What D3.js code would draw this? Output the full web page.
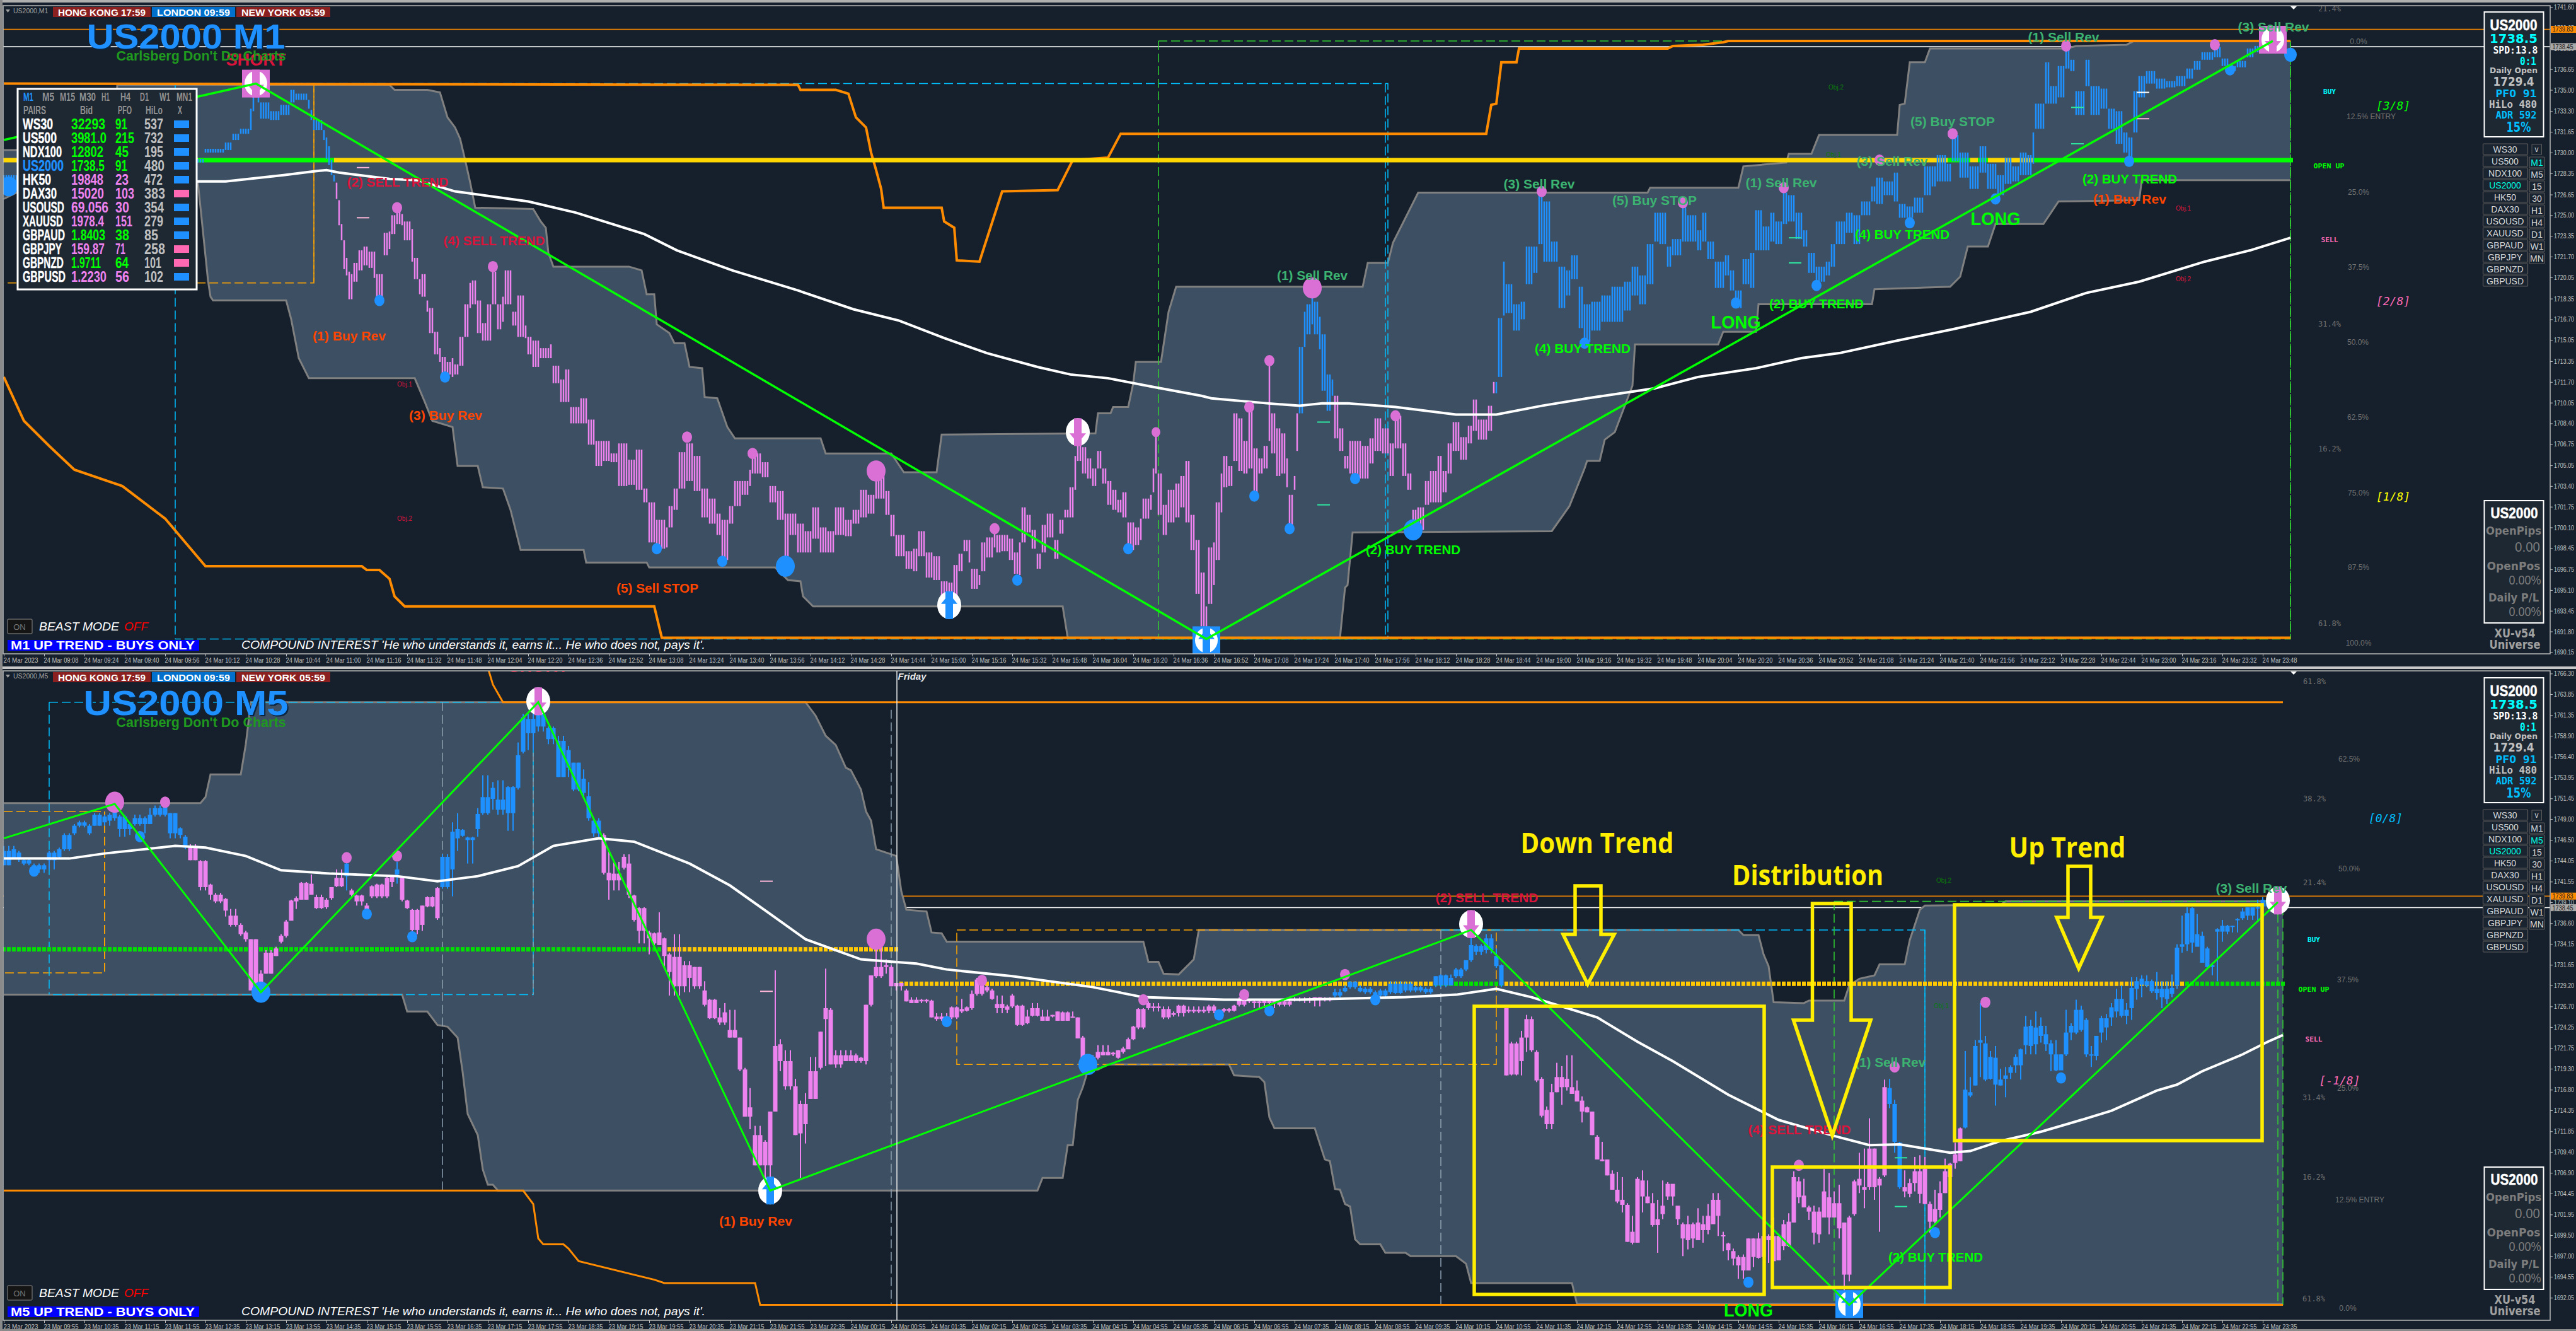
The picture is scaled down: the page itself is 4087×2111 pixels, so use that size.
<!DOCTYPE html>
<html><head><meta charset="utf-8">
<script src="https://cdn.jsdelivr.net/npm/d3@7/dist/d3.min.js"></script>
<style>html,body{margin:0;padding:0;background:#16202c;overflow:hidden}</style>
</head><body><svg id="c" width="4087" height="2111" xmlns="http://www.w3.org/2000/svg"></svg>
<script>
// All series values below are in tenths of a point above 1690.0 (225 = 1712.5); bars are bar numbers from the left of each panel.
const m1Start=[0,6,77,80,88,91,94,98,99,100,101,102,106,110,114,116,121,122,123,127,128,129,130,131,132,133,134,135,136,137,138,139,141,143,145,147,148,151,153,154,156,158,159,162,163,165,166,168,169,171,173,174,176,178,179,181,183,185,186,188,190,192,194,196,198,199,202,204,207,208,210,213,217,218,221,223,225,229,232,235,238,241,244,248,251,254,256,259,263,264,266,268,271,274,277,280,283,285,288,290,293,296,297,301,304,307,310,312,315,318,321,324,327,330,334,337,340,343,346,350,352,354,358,361,363,366,369,372,375,377,379,381,383,384,387,388,390,393,394,396,399,401,403,404,406,408,410,412,414,417,419,421,423,425,426,428,430,432,434,436,438,440,442,444,446,449,451,452,455,456,457,458,460,462,465,467,469,471,473,475,477,478,480,481,483,484,486,488,490,492,494,496,498,500,502,503,505,507,509,510,512,513,514,516,517,519,520,522,523,525,527,528,530,532,534,536,539,542,544,547,550,552,555,557,559,561,564,566,569,571,573,575,578,581,583,585,589,591,593,595,596,599,602,604,607,609,611,614,617,620,622,625,627,630,634,638,643,646,649,652,655,657,660,662,666,668,672,674,676,679,683,685,687,690,693,695,698,701,703,706,708,711,714,716,719,723,725,727,731,734,737,741,743,746,750,752,755,758,762,765,767,771,773,776,780,784,787,791,794,797,800,803,805,806,810,812,815,818,820,822,826,828,832,835,838,841,843,845,847,850,854,858,862,866,869,872,877,880,883,886,890,893,898,901,906];
const m1High=[382,382,395,403,408,415,419,435,452,452,447,440,433,438,450,447,442,434,426,418,412,405,394,382,376,362,343,330,316,305,303,312,322,325,321,321,303,336,337,350,355,351,345,339,316,299,303,282,276,257,244,237,233,236,231,253,279,296,298,282,264,279,305,279,285,306,273,286,262,253,250,244,247,230,219,227,197,204,187,170,170,160,168,155,163,132,121,107,101,118,132,161,168,158,132,124,112,107,118,138,138,147,160,153,134,130,112,112,104,98,117,101,98,117,107,115,131,127,144,130,111,95,82,84,98,81,78,58,57,71,80,91,91,68,63,89,93,99,95,95,92,81,89,117,111,99,80,103,112,91,107,115,133,158,176,165,156,148,162,148,138,131,123,129,105,101,108,124,127,148,176,144,119,131,136,142,154,111,91,65,38,85,89,121,144,158,150,192,188,170,196,164,156,166,233,192,180,176,156,127,142,192,245,273,279,293,281,269,255,223,219,206,180,158,170,170,166,172,188,180,168,190,168,144,115,117,138,146,158,146,168,185,173,182,203,187,198,217,268,313,295,279,281,325,325,366,361,329,309,306,318,293,279,281,286,293,297,309,302,327,352,352,325,331,361,350,338,352,329,313,318,306,290,315,320,354,341,352,345,368,366,352,338,320,309,313,327,345,352,350,361,373,380,377,384,359,357,364,389,389,398,391,414,400,389,405,391,382,396,389,400,398,416,439,472,453,469,485,474,449,474,453,451,435,433,416,412,449,461,465,459,457,461,467,473,480,484,475,469,473,483,485,489,488,483];
const m1Low=[376,376,392,400,402,410,415,418,433,445,440,427,426,430,440,442,435,426,418,410,395,390,382,377,363,342,330,307,302,283,283,297,306,310,308,300,282,318,323,335,343,342,330,313,299,287,285,273,256,239,233,221,223,221,223,230,253,276,279,256,250,250,279,259,265,279,262,253,252,239,229,236,236,216,201,201,184,184,167,150,154,153,134,135,131,121,89,84,85,101,115,132,138,130,109,104,95,75,104,118,127,134,144,141,121,107,69,95,81,81,92,81,81,95,94,104,109,112,124,111,94,78,68,66,78,61,59,41,38,46,66,82,73,52,55,66,77,85,81,82,75,64,63,89,97,84,68,81,93,76,96,109,109,131,154,144,140,134,148,136,119,115,113,109,83,87,91,108,115,129,144,111,95,105,109,117,105,83,48,22,10,40,55,75,113,133,134,154,146,144,148,125,144,148,170,160,142,144,133,101,131,162,192,245,255,263,255,243,210,194,206,172,162,148,144,140,140,152,162,160,142,164,142,131,99,99,119,121,121,129,144,162,155,168,178,171,178,208,221,270,272,258,267,295,304,327,313,313,276,286,299,260,249,258,265,265,274,286,279,295,329,327,309,318,329,329,322,329,315,292,302,290,276,295,292,322,322,329,327,343,345,331,325,304,297,302,309,327,336,327,350,361,359,366,361,348,348,352,366,373,377,377,393,380,371,384,371,366,375,377,382,382,391,419,439,439,444,467,465,430,453,430,435,419,407,400,391,416,444,455,451,452,453,459,466,474,476,469,465,468,476,480,483,482,478];
const m1BlueRuns=[[0,131],[514,527],[592,907]];

const m5Start=[0,2,3,4,6,7,9,11,12,14,15,17,18,20,21,22,23,25,26,28,29,30,32,33,35,36,37,39,41,42,44,45,47,48,49,51,52,54,55,56,57,58,59,61,62,64,65,66,68,69,70,72,73,74,76,77,78,79,80,81,83,84,86,87,89,90,91,92,94,95,97,98,100,102,103,104,106,108,110,112,113,115,116,117,119,120,121,123,124,125,126,128,129,130,131,132,133,135,136,137,139,140,142,143,144,146,147,148,149,151,152,153,154,155,157,158,159,160,162,163,164,165,167,169,170,171,172,173,175,176,177,179,180,182,184,185,187,188,190,191,192,193,195,196,197,199,200,201,203,204,206,208,209,210,212,213,214,215,217,218,220,221,222,223,224,225,227,228,230,232,233,235,237,239,241,242,244,245,247,248,250,253,256,258,260,262,264,266,267,269,270,272,273,275,276,278,280,282,284,285,287,288,290,291,292,294,296,297,298,299,301,302,303,304,305,306,307,308,309,310,311,312,313,314,315,316,317,318,319,320,321,322,323,324,325,326,327,328,329,330,331,332,333,334,335,336,337,338,339,340,341,342,343,344,345,346,347,348,349,350,351,352,353,354,355,356,357,358,359,360,361,362,363,364,365,366,367,368,369,370,371,372,373,374,375,376,377,378,379,380,381,382,383,384,385,386,387,388,389,390,391,392,393,394,395,396,397,398,399,400,401,402,403,404,405,406,407,408,409,410,411,412,413,414,415,416,417,418,419,420,421,422,423,424,425,426,427,428,429,430,431,432,433,434,435,436,437,438,439,440,441,442,443,444,445,446,447,448,450,452];
const m5High=[558,558,552,543,537,537,552,556,573,584,588,584,597,595,597,608,595,586,595,593,603,606,610,597,580,571,560,541,513,502,496,483,466,457,447,410,434,438,453,470,494,498,515,524,500,496,509,530,539,507,500,490,511,513,522,522,539,522,494,483,487,498,509,548,586,597,578,569,603,642,634,636,629,681,715,715,728,700,689,677,657,649,634,591,573,552,539,548,548,500,485,457,455,479,449,431,453,421,421,414,397,376,365,371,363,330,294,270,225,208,242,410,328,315,281,255,264,307,337,412,365,315,315,311,307,369,404,444,423,416,395,388,378,376,375,359,359,367,376,367,386,401,392,388,380,369,382,369,363,371,363,357,361,361,361,354,332,309,321,321,313,315,319,330,344,365,373,371,367,361,369,367,367,369,363,365,369,378,376,375,376,375,378,378,378,378,388,392,397,392,390,386,388,397,397,396,392,390,403,405,405,413,422,449,441,453,436,417,365,325,338,357,355,315,283,248,275,300,296,309,309,279,260,248,242,214,206,185,172,170,164,133,118,164,172,160,145,137,160,158,151,126,110,118,110,127,118,132,145,145,99,86,79,71,72,91,91,98,99,96,116,96,113,121,171,164,162,130,130,128,174,169,147,155,110,118,161,193,198,234,198,164,280,281,256,206,172,162,188,190,188,135,149,159,186,181,205,223,314,283,327,371,332,314,320,293,295,297,310,317,356,351,361,354,344,327,327,310,363,347,375,368,353,320,332,356,358,371,388,392,371,402,402,404,404,399,408,397,397,405,441,475,485,485,477,456,438,419,460,470,464,463,472,484,485,485,494,497,494];
const m5Low=[535,543,539,535,524,526,530,543,552,571,580,571,582,582,582,588,569,571,582,573,584,593,593,567,567,554,541,505,494,490,474,462,451,444,388,388,406,427,442,449,470,483,494,500,483,483,494,509,505,496,487,474,496,496,496,509,513,492,483,453,457,485,470,507,498,552,569,537,569,595,601,595,576,625,668,672,694,679,640,640,623,616,588,569,524,494,505,530,496,468,442,429,440,440,414,380,380,384,384,388,367,352,345,345,330,290,236,221,178,156,161,242,290,268,214,163,204,257,292,296,298,294,302,300,300,298,367,401,406,391,386,373,371,371,354,350,344,352,359,361,363,380,384,375,359,359,365,344,346,355,350,354,350,350,354,329,298,298,304,309,308,305,311,317,327,340,363,361,352,355,355,359,359,359,359,360,361,367,371,365,365,367,373,371,367,373,378,384,388,384,382,371,378,382,382,384,384,382,390,390,392,401,409,420,428,430,413,390,285,285,285,313,313,277,235,221,221,265,250,267,263,254,229,241,214,185,183,166,149,133,122,87,84,86,122,133,105,74,114,137,130,107,70,78,80,93,86,96,120,94,76,65,59,43,43,55,57,67,72,62,64,72,77,81,110,133,128,113,84,86,123,96,116,91,28,40,118,145,127,149,137,99,164,246,193,150,140,140,147,133,132,98,108,116,145,154,174,183,222,259,273,283,278,280,249,273,259,281,288,280,310,310,310,324,314,290,290,293,308,327,334,337,307,295,303,324,327,344,354,354,346,351,375,378,390,383,375,365,370,378,388,431,433,431,441,433,412,404,397,444,453,455,455,470,470,470,470,484,484];
const m5BodyTop=[552,554,550,541,535,535,550,554,571,582,586,582,595,593,595,599,593,584,591,591,595,603,608,597,579,569,558,540,512,500,495,475,464,455,447,406,431,436,451,468,493,496,514,513,497,494,509,520,537,505,499,487,510,512,520,521,530,520,493,482,487,497,508,545,575,578,577,568,596,616,627,613,628,666,711,709,715,698,683,672,657,638,617,588,571,526,525,545,537,499,484,455,454,455,448,429,426,416,416,414,386,375,354,360,339,330,292,247,214,206,242,320,322,302,272,251,251,290,337,365,363,309,309,309,306,369,404,414,416,414,395,386,375,375,374,355,355,366,364,366,382,399,390,386,370,367,380,368,355,365,355,357,361,360,355,354,330,307,313,313,312,315,317,328,343,364,371,367,364,359,368,363,363,367,362,364,368,376,375,373,375,373,376,376,378,376,384,389,396,389,388,384,386,394,394,394,390,388,403,404,401,411,422,440,439,448,427,416,365,323,330,352,352,313,281,244,265,283,283,281,271,267,255,247,242,212,185,185,168,149,137,131,99,162,160,141,133,114,130,156,156,130,108,108,108,110,108,118,137,137,95,85,76,69,69,91,91,91,94,94,94,94,108,111,164,159,142,128,123,123,147,140,133,133,110,116,159,162,152,198,198,162,271,270,251,205,152,157,171,171,174,132,126,145,171,180,191,222,268,265,320,327,323,307,306,280,285,295,307,316,343,344,342,344,334,323,310,310,336,344,363,363,351,310,332,353,353,366,376,376,363,389,397,400,397,397,388,388,388,389,437,441,478,484,453,451,436,416,459,463,463,463,471,480,485,485,485,494,492];
const m5BodyBot=[535,543,543,537,528,530,541,545,554,573,582,573,582,586,588,591,578,578,584,584,584,595,595,573,571,556,541,509,500,492,481,464,453,447,386,388,406,427,444,451,469,492,494,500,484,485,496,510,522,500,492,481,498,498,498,515,524,494,484,458,464,486,472,509,530,567,570,565,578,597,614,601,597,627,670,692,700,685,640,651,625,621,591,573,526,517,517,532,500,470,457,448,442,440,427,408,391,391,401,391,369,353,348,348,330,292,236,236,178,178,178,242,302,272,214,216,227,257,294,352,298,298,302,302,302,302,369,403,414,391,391,373,371,373,354,352,352,354,361,362,365,382,386,376,365,363,367,345,347,356,350,355,350,350,354,329,298,298,306,309,310,306,313,316,328,342,365,365,354,357,359,361,361,362,361,362,362,369,373,371,371,369,375,374,375,375,380,385,390,385,384,376,380,384,383,386,386,384,392,392,392,403,411,422,432,434,415,392,285,286,302,330,315,279,237,227,227,265,271,271,263,254,242,241,214,185,183,166,149,135,131,87,86,86,141,133,107,107,120,141,141,114,91,89,91,89,101,101,108,118,94,77,67,59,53,53,69,68,69,89,64,65,82,82,110,140,128,123,98,96,116,116,116,103,48,48,120,154,149,152,152,154,166,251,206,152,147,144,157,144,132,111,111,125,145,164,181,183,223,261,273,324,280,281,274,273,281,288,297,297,321,320,322,332,322,310,291,291,310,336,336,339,310,309,308,336,342,354,361,356,356,365,388,393,392,385,383,378,376,382,392,438,441,443,438,419,414,414,456,456,456,462,472,472,475,475,486,486];
const m5BlueRuns=[[0,36],[68,68],[78,78],[87,118],[264,297],[374,376],[389,452]];

// Overlay series: pairs of [bar, value]
const m1Upper=[[0,402],[44,402],[45,454],[153,454],[155,450],[168,450],[173,448],[176,428],[179,420],[181,411],[183,394],[185,376],[187,356],[210,355],[213,345],[215,340],[216,320],[218,309],[248,309],[253,306],[255,287],[258,287],[259,263],[264,256],[266,248],[270,248],[272,229],[277,228],[278,205],[283,204],[287,181],[290,172],[324,172],[326,160],[352,160],[357,145],[370,145],[372,175],[433,176],[434,192],[439,192],[440,197],[446,197],[448,216],[449,233],[459,233],[462,273],[465,293],[539,293],[541,312],[549,312],[551,328],[561,368],[652,368],[653,372],[688,372],[690,389],[707,392],[708,399],[717,399],[720,414],[751,414],[752,438],[754,439],[756,472],[762,472],[764,483],[818,483],[822,485],[842,486],[845,489],[907,489]];
const m1Lower=[[0,363],[5,368],[77,376],[81,298],[82,285],[83,282],[112,282],[114,267],[117,236],[121,220],[163,220],[167,201],[170,186],[178,181],[180,150],[188,150],[190,133],[198,132],[201,115],[205,83],[230,83],[231,73],[255,73],[256,69],[306,69],[311,59],[316,58],[317,46],[321,38],[420,38],[422,13],[530,13],[532,53],[533,55],[535,97],[614,98],[621,118],[627,148],[628,154],[633,154],[635,171],[639,177],[646,214],[647,247],[680,247],[682,257],[695,257],[696,279],[741,279],[742,291],[772,293],[776,301],[779,325],[787,325],[790,343],[809,343],[815,361],[847,362],[848,378],[907,378]];
const m1OrangeUp=[[0,455],[315,454],[316,450],[330,450],[335,447],[338,428],[342,420],[344,400],[346,386],[348,371],[349,356],[372,356],[373,345],[377,340],[378,314],[387,313],[396,369],[418,370],[424,394],[438,396],[443,415],[588,415],[590,438],[592,439],[594,472],[600,472],[601,483],[660,483],[662,485],[674,486],[682,488],[684,489],[907,489]];
const m1OrangeDn=[[0,221],[8,186],[18,166],[28,147],[47,134],[64,108],[80,70],[142,70],[144,67],[149,67],[153,60],[155,46],[159,38],[258,38],[261,13],[907,13]];
const m1Ma=[[0,373],[77,377],[88,377],[111,382],[123,385],[128,386],[133,384],[153,379],[164,378],[179,369],[208,361],[227,352],[254,335],[267,322],[289,306],[315,290],[337,275],[355,266],[373,252],[390,240],[410,229],[423,223],[438,220],[456,213],[475,206],[479,204],[501,200],[514,198],[523,200],[533,200],[552,197],[576,191],[592,191],[610,198],[628,204],[655,212],[672,221],[695,228],[713,236],[728,240],[751,250],[773,259],[804,273],[826,288],[847,297],[873,313],[891,322],[907,332]];
const m1Zig=[[0,410],[100,455],[477,12],[900,489]];
const m1Open=394;
const m1OpenRuns=[[0,77,"#FFD700"],[77,131,"#00FF00"],[131,771,"#FFD700"],[771,780,"#00FF00"],[780,783,"#FFD700"],[783,787,"#00FF00"],[787,805,"#FFD700"],[805,908,"#00FF00"]];
const m1Dots=[[2,373,14],[149,282,8],[156,356,8],[175,221,8],[194,309,8],[259,84,8],[271,173,8],[285,74,8],[310,70,15],[297,160,8],[346,146,15],[393,100,8],[402,59,8],[457,177,7],[446,84,8],[494,197,8],[496,126,8],[502,234,8],[510,100,8],[519,292,15],[536,140,8],[552,190,8],[559,99,15],[610,369,8],[627,248,8],[666,360,8],[687,280,8],[706,372,8],[719,294,8],[744,394,8],[773,415,8],[756,344,8],[790,363,8],[818,485,8],[843,393,8],[877,486,8],[883,466,8],[907,478,10]];
const m1DotBlue=[1,1,0,1,0,1,0,1,1,0,0,0,1,0,1,0,1,0,1,0,1,0,1,0,1,0,1,0,1,0,0,1,1,0,1,0,1,1];
const m1Icons=[[100,455,"sell","sq"],[426,177,"sell","c"],[375,39,"buy","c"],[477,11,"buy","sq"],[900,490,"sell","sq"]];
const m1Dash=[[140,388,"#ffb6d9"],[140,348,"#ffb6d9"],[521,185,"#2ee6a0"],[521,119,"#2ee6a0"],[708,332,"#2ee6a0"],[708,312,"#2ee6a0"],[820,436,"#2ee6a0"],[820,407,"#2ee6a0"],[846,448,"#ffffff"],[846,427,"#ffb6d9"]];

const m5Upper=[[0,609],[39,609],[40,616],[41,643],[47,643],[48,679],[49,729],[159,729],[161,713],[163,689],[165,678],[167,651],[168,648],[170,625],[171,599],[172,588],[173,554],[177,546],[178,504],[179,482],[183,480],[184,455],[186,454],[187,444],[226,444],[227,420],[229,420],[230,406],[233,405],[236,423],[237,458],[344,458],[345,452],[348,452],[349,429],[350,415],[351,372],[357,371],[358,374],[365,374],[366,392],[368,400],[371,404],[372,417],[377,417],[378,446],[380,482],[381,487],[396,488],[397,492],[452,492]];
const m5Lower=[[0,381],[79,381],[80,361],[84,361],[86,345],[88,343],[90,330],[91,289],[92,239],[94,214],[95,173],[96,155],[97,155],[98,148],[205,148],[206,163],[210,163],[211,202],[212,202],[213,256],[214,271],[215,291],[217,292],[219,298],[243,298],[244,285],[249,283],[250,277],[251,235],[252,222],[260,222],[262,185],[263,183],[264,150],[265,149],[266,132],[267,129],[268,90],[269,84],[273,84],[274,74],[278,74],[279,70],[288,70],[290,61],[291,38],[311,38],[312,13],[452,13]];
const m5OrangeUp=[[96,770],[97,750],[99,729],[452,729]];
const m5OrangeDn=[[0,148],[103,148],[105,132],[106,91],[107,84],[111,84],[112,79],[114,64],[129,42],[131,38],[149,38],[150,12],[452,12]];
const m5Ma=[[0,543],[13,543],[20,549],[34,558],[40,556],[48,546],[55,529],[65,525],[78,522],[86,516],[94,522],[102,534],[109,558],[118,567],[125,563],[136,537],[144,511],[152,477],[159,447],[170,423],[181,418],[187,411],[200,403],[216,390],[226,378],[242,375],[257,375],[278,378],[288,381],[296,388],[303,378],[309,367],[316,354],[324,325],[331,302],[342,262],[352,232],[363,213],[370,202],[376,203],[386,193],[390,195],[396,207],[404,218],[412,232],[418,243],[427,267],[431,274],[436,290],[444,310],[449,325],[452,333]];
const m5Zig=[[0,567],[22,608],[51,384],[106,729],[152,148],[291,458],[366,12],[451,491]];
const m5OpenRuns=[[0,131,435,"#00E000"],[132,177,435,"#FFC800"],[178,283,394,"#FFC800"],[284,297,394,"#00E000"],[298,432,394,"#FFC800"],[433,452,394,"#00E000"]];
const m5Dots=[[6,528,8],[22,610,15],[27,569,8],[32,610,8],[51,384,15],[68,544,8],[72,477,8],[78,546,8],[81,450,8],[187,349,8],[194,398,8],[215,298,15],[226,375,8],[241,357,8],[246,381,8],[251,362,8],[266,405,8],[272,375,8],[173,447,15],[356,178,8],[346,39,8],[375,295,8],[383,98,8],[408,282,8],[393,372,8]];
const m5DotBlue=[1,0,1,0,1,0,1,0,1,1,0,1,0,1,0,1,0,1,0,0,1,0,1,1,0];
const m5Icons=[[106,730,"sell","c"],[152,148,"buy","c"],[291,465,"sell","c"],[366,13,"buy","sq"],[451,493,"sell","c"]];
const m5Dash=[[150,516,"#ffb6d9"],[150,385,"#ffb6d9"],[375,187,"#2ee6a0"],[375,129,"#2ee6a0"]];

const m1PriceTicks=[1741.60,1739.95,1738.30,1736.65,1735.00,1733.30,1731.65,1730.00,1728.35,1726.65,1725.00,1723.35,1721.70,1720.05,1718.35,1716.70,1715.05,1713.35,1711.70,1710.05,1708.40,1706.75,1705.05,1703.40,1701.75,1700.10,1698.45,1696.75,1695.10,1693.45,1691.80,1690.15];
const m5PriceTicks=[1766.30,1763.85,1761.35,1758.90,1756.40,1753.95,1751.45,1749.00,1746.50,1744.05,1741.55,1739.10,1736.60,1734.15,1731.65,1729.20,1726.70,1724.25,1721.75,1719.30,1716.80,1714.35,1711.85,1709.40,1706.90,1704.45,1701.95,1699.50,1697.00,1694.55,1692.05];
const m1TimeLabels=["24 Mar 2023"].concat("09:08 09:24 09:40 09:56 10:12 10:28 10:44 11:00 11:16 11:32 11:48 12:04 12:20 12:36 12:52 13:08 13:24 13:40 13:56 14:12 14:28 14:44 15:00 15:16 15:32 15:48 16:04 16:20 16:36 16:52 17:08 17:24 17:40 17:56 18:12 18:28 18:44 19:00 19:16 19:32 19:48 20:04 20:20 20:36 20:52 21:08 21:24 21:40 21:56 22:12 22:28 22:44 23:00 23:16 23:32 23:48".split(" ").map(s=>"24 Mar "+s));
const m5TimeLabels=["23 Mar 2023"].concat("09:55 10:35 11:15 11:55 12:35 13:15 13:55 14:35 15:15 15:55 16:35 17:15 17:55 18:35 19:15 19:55 20:35 21:15 21:55 22:35".split(" ").map(s=>"23 Mar "+s)).concat("00:15 00:55 01:35 02:15 02:55 03:35 04:15 04:55 05:35 06:15 06:55 07:35 08:15 08:55 09:35 10:15 10:55 11:35 12:15 12:55 13:35 14:15 14:55 15:35 16:15 16:55 17:35 18:15 18:55 19:35 20:15 20:55 21:35 22:15 22:55 23:35".split(" ").map(s=>"24 Mar "+s));

const tblPairs=["WS30","US500","NDX100","US2000","HK50","DAX30","USOUSD","XAUUSD","GBPAUD","GBPJPY","GBPNZD","GBPUSD"];
const tblBid=["32293","3981.0","12802","1738.5","19848","15020","69.056","1978.4","1.8403","159.87","1.9711","1.2230"];
const tblPfo=["91","215","45","91","23","103","30","151","38","71","64","56"];
const tblHilo=["537","732","195","480","472","383","354","279","85","258","101","102"];
const tblUp=[1,1,1,1,0,0,0,0,1,0,1,0];
const tblX=[1,1,1,1,1,0,1,1,1,0,0,1];
const tfNames=["M1","M5","M15","M30","H1","H4","D1","W1","MN1"];
const symButtons=["WS30","US500","NDX100","US2000","HK50","DAX30","USOUSD","XAUUSD","GBPAUD","GBPJPY","GBPNZD","GBPUSD"];
const tfButtons=["M1","M5","15","30","H1","H4","D1","W1","MN"];

// ---------- drawing ----------
const BG="#16202c",BAND="#3d5063",PINK="#ee82ee",BLUE="#1e90ff",DOTP="#da70d6",GRAY="#808080",ORANGE="#ff8c00",LIME="#00ff00";
const svg=d3.select("#c");
const sans="'Liberation Sans',Arial,sans-serif",mono="'DejaVu Sans Mono',monospace",dj="'DejaVu Sans',sans-serif";
const price=v=>1690+v/10;
function T(g,x,y,s,o={}){
  const e=g.append("text").attr("x",x).attr("y",y).text(s).attr("dominant-baseline","central")
   .attr("text-anchor",o.a||"middle").attr("font-family",o.f||sans).attr("font-size",o.s||14).attr("fill",o.c||"#fff");
  if(o.b)e.attr("font-weight","bold"); if(o.i)e.attr("font-style","italic");
  if(o.w)e.attr("textLength",o.w).attr("lengthAdjust","spacingAndGlyphs");
  if(o.st)e.attr("stroke",o.st).attr("stroke-width",o.sw||.5);
  return e;
}
svg.append("rect").attr("width",4087).attr("height",2111).attr("fill",BG);
svg.append("rect").attr("x",0).attr("y",0).attr("width",4087).attr("height",4).attr("fill","#b0b0b0");
svg.append("rect").attr("x",0).attr("y",1057).attr("width",4087).attr("height",4).attr("fill","#c8c8c8");
svg.append("rect").attr("x",0).attr("y",0).attr("width",4).attr("height",2111).attr("fill","#8a8a8a");
svg.append("rect").attr("x",0).attr("y",2108).attr("width",4087).attr("height",3).attr("fill","#8a8a8a");

function panel(p){
  const x=d3.scaleLinear().domain([0,p.bars]).range([6,p.right]);
  const y=d3.scaleLinear().domain([1690,p.topP]).range([p.y0,p.y1]);
  const X=b=>x(b),Y=v=>y(price(v));
  const root=svg.append("g");
  const id="clip"+p.name;
  svg.append("clipPath").attr("id",id).append("rect").attr("x",5).attr("y",p.top).attr("width",4041).attr("height",p.bot-p.top);
  const g=root.append("g").attr("clip-path",`url(#${id})`);
  root.append("path").attr("d",`M5 ${p.top}H4046V${p.bot}H5Z`).attr("fill","none").attr("stroke","#b8b8b8").attr("stroke-width",1.5);
  g.append("line").attr("x1",5).attr("x2",4046).attr("y1",y(1739.83)).attr("y2",y(1739.83)).attr("stroke",ORANGE).attr("stroke-width",1.5);
  g.append("line").attr("x1",5).attr("x2",4046).attr("y1",y(1738.45)).attr("y2",y(1738.45)).attr("stroke","#fff").attr("stroke-width",1.5);
  const ln=d3.line().x(d=>X(d[0])).y(d=>Y(d[1]));
  g.append("path").attr("d",ln(p.upper.concat(p.lower.slice().reverse()))+"Z").attr("fill",BAND);
  [p.upper,p.lower].forEach(a=>g.append("path").attr("d",ln(a)).attr("fill","none").attr("stroke",GRAY).attr("stroke-width",3));
  p.boxes.forEach(b=>{g.append("path").attr("d",`M${X(b[0])} ${Y(b[2])}H${X(b[1])}V${Y(b[3])}H${X(b[0])}`+(b[5]?"Z":"")).attr("fill","none").attr("stroke",b[4]).attr("stroke-width",1.5).attr("stroke-dasharray","14 6");});
  p.vert.forEach(b=>{g.append("line").attr("x1",X(b[0])).attr("x2",X(b[0])).attr("y1",Y(b[1])).attr("y2",Y(b[2])).attr("stroke",b[3]).attr("stroke-width",1.5).attr("stroke-dasharray",b[4]||"14 6");});
  [p.oUp,p.oDn].forEach(a=>g.append("path").attr("d",ln(a)).attr("fill","none").attr("stroke",ORANGE).attr("stroke-width",p.oW));
  p.drawOpen(g,X,Y);
  p.drawBars(g,X,Y);
  g.append("path").attr("d",ln(p.ma)).attr("fill","none").attr("stroke","#fff").attr("stroke-width",4);
  g.selectAll(".dash").data(p.dash).join("rect").attr("x",d=>X(d[0])).attr("y",d=>Y(d[1])-1).attr("width",20).attr("height",2).attr("fill",d=>d[2]);
  g.selectAll(".dot").data(p.dots).join("ellipse").attr("cx",d=>X(d[0])).attr("cy",d=>Y(d[1])).attr("rx",d=>d[2]).attr("ry",d=>d[2]*1.12).attr("fill",(d,i)=>p.dotBlue[i]?BLUE:DOTP);
  p.icons.forEach(ic=>{
    const cx=X(ic[0]),cy=Y(ic[1]),sell=ic[2]=="sell",col=sell?DOTP:BLUE,h=g.append("g");
    if(ic[3]=="sq")h.append("rect").attr("x",cx-22).attr("y",cy-22).attr("width",44).attr("height",44).attr("fill",col);
    h.append("ellipse").attr("cx",cx).attr("cy",cy).attr("rx",ic[3]=="sq"?18:19).attr("ry",ic[3]=="sq"?20:22).attr("fill","#fff");
    h.append("rect").attr("x",cx-6).attr("y",cy-22).attr("width",12).attr("height",44).attr("fill",col);
    h.append("path").attr("d",sell?`M${cx-13} ${cy+2}L${cx+13} ${cy+2}L${cx} ${cy+18}Z`:`M${cx-13} ${cy-2}L${cx+13} ${cy-2}L${cx} ${cy-18}Z`).attr("fill",col);
  });
  g.append("path").attr("d",ln(p.zig)).attr("fill","none").attr("stroke",LIME).attr("stroke-width",p.zW);
  p.labels.forEach(l=>T(g,l[0],l[1],l[2],{s:l[5]||21,b:1,c:l[3],w:l[4]}));
  const ay=d3.axisRight(y).tickValues(p.pt).tickFormat(d=>d.toFixed(2)).tickSize(4).tickPadding(2);
  const gy=root.append("g").attr("transform","translate(4046,0)").call(ay);
  gy.selectAll("text").attr("font-family",sans).attr("font-size",11).attr("fill","#c0c0c0").attr("textLength",32).attr("lengthAdjust","spacingAndGlyphs");
  gy.selectAll("line").attr("stroke","#c0c0c0"); gy.select(".domain").attr("stroke","none");
  const tv=p.tl.map((_,i)=>i*p.tickStep);
  const ax=d3.axisBottom(x).tickValues(tv).tickFormat((d,i)=>p.tl[i]).tickSize(4).tickPadding(3);
  const gx=root.append("g").attr("transform",`translate(0,${p.bot})`).call(ax);
  gx.selectAll("text").attr("font-family",sans).attr("font-size",10.5).attr("fill","#c0c0c0").attr("text-anchor","start").attr("dx",-1).attr("textLength",55).attr("lengthAdjust","spacingAndGlyphs");
  gx.selectAll("line").attr("stroke","#c0c0c0"); gx.select(".domain").attr("stroke","none");
  const tag=(v,c,tc)=>{root.append("rect").attr("x",4047).attr("y",y(v)-5.5).attr("width",40).attr("height",11).attr("fill",c);T(root,4066,y(v),v.toFixed(2),{s:11,c:tc,w:33});};
  tag(1739.83,ORANGE,"#222"); tag(1738.45,"#a8a8a8","#222");
  root.append("path").attr("d",`M3634 ${p.top+1}h10l-5 5Z`).attr("fill","#fff");
  T(root,21,p.top+8,p.cap,{a:"start",s:10.5,c:"#a0a0a0"});
  root.append("path").attr("d",`M9 ${p.top+6}h7l-3.5 5Z`).attr("fill","#a0a0a0");
  const hh=[[84,155,"#8b2020","HONG KONG  17:59"],[241,132,"#0070cc","LONDON   09:59"],[375,149,"#8b2020","NEW YORK  05:59"]];
  hh.forEach(h=>{root.append("rect").attr("x",h[0]).attr("y",p.top+2).attr("width",h[1]).attr("height",16).attr("fill",h[2]);T(root,h[0]+h[1]/2,p.top+10,h[3],{s:15,b:1,w:h[1]-16});});
  T(root,297,p.titleY+2,p.title,{s:56,b:1,c:"#0b2540",w:p.titleW});
  T(root,295,p.titleY,p.title,{s:56,b:1,c:BLUE,w:p.titleW});
  T(root,319,p.titleY+31,"Carlsberg Don't Do Charts",{s:22,b:1,c:"#1f9a1f",w:269});
  const by=p.bot-55;
  root.append("rect").attr("x",12).attr("y",by).attr("width",39).attr("height",23).attr("fill","#151515").attr("stroke","#666").attr("stroke-width",1.5).attr("rx",2);
  T(root,31,by+12,"ON",{s:13,c:"#777"});
  T(root,62,by+12,"BEAST MODE",{a:"start",s:18,i:1,w:127});
  T(root,197,by+12,"OFF",{a:"start",s:18,i:1,c:"#ff0000",w:38});
  root.append("rect").attr("x",12).attr("y",p.bot-22).attr("width",304).attr("height",17).attr("fill","#0000ff");
  T(root,163,p.bot-13.5,p.trend,{s:18,b:1,w:292});
  T(root,383,p.bot-14,"COMPOUND INTEREST 'He who understands it, earns it... He who does not, pays it'.",{a:"start",s:18,i:1,w:736});
  p.side.forEach(l=>T(root,l[0],l[1],l[2],{s:l[4]||12,c:l[3]||"#707070",f:l[5]||sans,i:l[6],b:l[7],w:l[8]}));
  const d=p.infoOff;
  root.append("rect").attr("x",3941.5).attr("y",19+d).attr("width",94).attr("height",198).attr("fill","#1e2833").attr("stroke","#fff").attr("stroke-width",2);
  T(root,3988,39+d,"US2000",{s:24,b:1,st:"#fff",w:75});
  T(root,3988,61+d,"1738.5",{s:19,b:1,c:"#00ffff",f:dj,w:76});
  T(root,3991,80+d,"SPD:13.8",{s:15,b:1,f:mono,w:71});
  T(root,4011,96+d,"0:1",{s:18,b:1,c:"#00ffff",f:mono,w:26});
  T(root,3988,111+d,"Daily Open",{s:13,b:1,c:"#c0c0c0",f:dj,w:76});
  T(root,3988,129+d,"1729.4",{s:20,b:1,c:"#c0c0c0",f:dj,w:65});
  T(root,3992,148+d,"PFO  91",{s:16,b:1,c:"#00bfff",f:mono,w:65});
  T(root,3987,165+d,"HiLo 480",{s:16,b:1,c:"#c0c0c0",f:mono,w:76});
  T(root,3992,182+d,"ADR 592",{s:16,b:1,c:"#00bfff",f:mono,w:65});
  T(root,3996,201+d,"15%",{s:22,b:1,c:"#00bfff",f:dj,w:39});
  symButtons.forEach((s,i)=>{const yy=228+d+i*19;
    root.append("rect").attr("x",3939.5).attr("y",yy).attr("width",71).attr("height",17).attr("fill","#1a2430").attr("stroke","#5a5a5a").attr("stroke-width",1.2).attr("rx",1);
    T(root,3974.5,yy+9,s,{s:14,c:s=="US2000"?"#00ffe0":"#d8d8d8"});});
  root.append("rect").attr("x",4017).attr("y",229+d).attr("width",15.5).attr("height",16).attr("fill","#1a2430").attr("stroke","#5a5a5a");
  T(root,4024.5,237+d,"v",{s:12,c:"#d8d8d8"});
  tfButtons.forEach((s,i)=>{const yy=249+d+i*19;
    root.append("rect").attr("x",4013).attr("y",yy).attr("width",24).attr("height",17).attr("fill","#1a2430").attr("stroke","#5a5a5a").attr("stroke-width",1.2).attr("rx",1);
    T(root,4025,yy+9,s,{s:14,c:s==p.tf?"#00ffe0":"#d8d8d8"});});
  const e=p.acctOff;
  root.append("rect").attr("x",3941.5).attr("y",794+e).attr("width",94).attr("height",194).attr("fill","#1e2833").attr("stroke","#fff").attr("stroke-width",2);
  T(root,3989,813+e,"US2000",{s:24,b:1,st:"#fff",w:75});
  T(root,3988,841+e,"OpenPips",{s:18,b:1,c:"#7c7c7c",f:dj,w:88});
  T(root,4010,867+e,"0.00",{s:22,c:"#7c7c7c",w:40});
  T(root,3988,897+e,"OpenPos",{s:18,b:1,c:"#7c7c7c",f:dj,w:85});
  T(root,4006,920+e,"0.00%",{s:20,c:"#7c7c7c",w:51});
  T(root,3988,947+e,"Daily P/L",{s:18,b:1,c:"#7c7c7c",f:dj,w:80});
  T(root,4006,970+e,"0.00%",{s:20,c:"#7c7c7c",w:51});
  T(root,3990,1004+e,"XU-v54",{s:19,b:1,c:"#a0a0a0",f:dj,w:65});
  T(root,3990,1022+e,"Universe",{s:19,b:1,c:"#a0a0a0",f:dj,w:81});
  return {X,Y,root};
}

function colorOf(runs,b,a,c){return runs.some(r=>b>=r[0]&&b<=r[1])?a:c;}

const m1Minutes=[];
m1Start.forEach((s,i)=>{const e=i+1<m1Start.length?m1Start[i+1]:s+2;for(let b=s;b<e;b++)m1Minutes.push({b,h:m1High[i],l:m1Low[i]});});
panel({name:"A",bars:907,right:3634,topP:1741.6,y0:1037.3,y1:11.3,top:9,bot:1037,upper:m1Upper,lower:m1Lower,oUp:m1OrangeUp,oDn:m1OrangeDn,ma:m1Ma,zig:m1Zig,oW:4,zW:3.5,
 dots:m1Dots,dotBlue:m1DotBlue,icons:m1Icons,dash:m1Dash,pt:m1PriceTicks,tl:m1TimeLabels,tickStep:16,cap:"US2000,M1",title:"US2000 M1",titleY:57,titleW:315,trend:"M1 UP TREND - BUYS ONLY",tf:"M1",infoOff:0,acctOff:0,
 boxes:[[0,123,455,296,"#ffa500"],[68,549,455,12,"#00bfff"],[458,907,489,12,"#32cd32"]],
 vert:[[123,455,296,"#ffa500"],[68,455,12,"#00bfff"],[548,455,12,"#00bfff"],[458,489,12,"#32cd32"],[907,489,12,"#32cd32"]],
 drawOpen(g,X,Y){m1OpenRuns.forEach(r=>g.append("line").attr("x1",r[0]==0?5:X(r[0])).attr("x2",X(r[1])).attr("y1",Y(m1Open)).attr("y2",Y(m1Open)).attr("stroke",r[2]).attr("stroke-width",7));},
 drawBars(g,X,Y){g.selectAll(".m1").data(m1Minutes).join("rect").attr("x",d=>X(d.b)-1.25).attr("width",2.5).attr("y",d=>Y(d.h)).attr("height",d=>Math.max(2,Y(d.l)-Y(d.h))).attr("fill",d=>colorOf(m1BlueRuns,d.b,BLUE,PINK));},
 labels:[[406,95,"SHORT","#dc143c",95,27],[631,288,"(2) SELL TREND","#dc143c",161],[784,381,"(4) SELL TREND","#dc143c",161],[554,532,"(1) Buy Rev","#ff4500",116],[707,658,"(3) Buy Rev","#ff4500",116],[1043,932,"(5) Sell STOP","#ff4500",130],
  [2082,436,"(1) Sell Rev","#3cb371",112],[2242,871,"(2) BUY TREND","#00ff00",150],[2442,291,"(3) Sell Rev","#3cb371",113],[2625,317,"(5) Buy STOP","#3cb371",134],[2826,289,"(1) Sell Rev","#3cb371",113],[2511,552,"(4) BUY TREND","#00ff00",152],[2754,511,"LONG","#00ff00",79,29],[2882,481,"(2) BUY TREND","#00ff00",150],[3018,371,"(4) BUY TREND","#00ff00",150],[3098,192,"(5) Buy STOP","#3cb371",134],[3002,255,"(3) Sell Rev","#3cb371",113],[3166,347,"LONG","#00ff00",79,29],[3274,58,"(1) Sell Rev","#3cb371",113],[3379,283,"(2) BUY TREND","#00ff00",150],[3379,315,"(1) Buy Rev","#ff4500",116],[3607,42,"(3) Sell Rev","#3cb371",113]],
 side:[[3696,14,"21.4%",0,12,mono],[3742,66,"0.0%"],[3762,185,"12.5% ENTRY"],[3742,305,"25.0%"],[3742,424,"37.5%"],[3797,167,"[3/8]","#00ff00",18,mono,1],[3696,145,"BUY","#00ffff",11,mono,0,1,20],[3695,263,"OPEN UP","#00ff00",11,mono,0,1,49],[3696,380,"SELL","#ff69b4",11,mono,0,1,27],[3797,477,"[2/8]","#ff69b4",18,mono,1],
  [3696,514,"31.4%",0,12,mono],[3741,543,"50.0%"],[3741,662,"62.5%"],[3696,712,"16.2%",0,12,mono],[3742,782,"75.0%"],[3797,787,"[1/8]","#ffff00",18,mono,1],[3742,900,"87.5%"],[3696,989,"61.8%",0,12,mono],[3742,1020,"100.0%"],
  [642,609,"Obj.1","#dc143c",10],[642,822,"Obj.2","#dc143c",10],[2913,138,"Obj.2","#0a7a0a",10],[2909,245,"Obj.1","#0a7a0a",10],[3464,330,"Obj.1","#dc143c",10],[3464,442,"Obj.2","#dc143c",10]]
});

const m5Slots=[];
m5Start.forEach((s,i)=>{const e=i+1<m5Start.length?m5Start[i+1]:s+1;for(let b=s;b<e;b++)m5Slots.push({b,h:m5High[i],l:m5Low[i],t:m5BodyTop[i],u:m5BodyBot[i]});});
const P2=panel({name:"B",bars:452,right:3622,topP:1766.3,y0:2085.6,y1:1068.3,top:1064,bot:2094,upper:m5Upper,lower:m5Lower,oUp:m5OrangeUp,oDn:m5OrangeDn,ma:m5Ma,zig:m5Zig,oW:3,zW:3,
 dots:m5Dots,dotBlue:m5DotBlue,icons:m5Icons,dash:m5Dash,pt:m5PriceTicks,tl:m5TimeLabels,tickStep:8,cap:"US2000,M5",title:"US2000 M5",titleY:1114,titleW:325,trend:"M5 UP TREND - BUYS ONLY",tf:"M5",infoOff:1056,acctOff:1057,
 boxes:[[9,105,729,381,"#00bfff"],[0,20,599,407,"#ffa500"],[189,296,458,298,"#ffa500",1],[285,381,458,12,"#00bfff"],[363,452,492,12,"#32cd32"]],
 vert:[[9,729,381,"#00bfff"],[105,729,381,"#8ca0b0"],[87,729,148,"#8ca0b0"],[20,599,407,"#ffa500"],[176,720,12,"#8ca0b0"],[285,458,12,"#8ca0b0"],[381,458,12,"#00bfff"],[363,492,12,"#32cd32"],[451,492,12,"#32cd32"]],
 drawOpen(g,X,Y){const cells=[];m5OpenRuns.forEach(r=>{for(let b=r[0];b<=r[1];b++)cells.push({b,v:r[2],c:r[3]});});
   g.selectAll(".op").data(cells).join("rect").attr("x",d=>X(d.b)-3).attr("width",6).attr("y",d=>Y(d.v)-3.5).attr("height",7).attr("fill",d=>d.c);},
 drawBars(g,X,Y){const c=d=>colorOf(m5BlueRuns,d.b,BLUE,PINK);
   g.selectAll(".w5").data(m5Slots).join("rect").attr("x",d=>X(d.b)-1).attr("width",2).attr("y",d=>Y(d.h)).attr("height",d=>Y(d.l)-Y(d.h)).attr("fill",c);
   g.selectAll(".b5").data(m5Slots).join("rect").attr("x",d=>X(d.b)-3.5).attr("width",7).attr("y",d=>Y(d.t)).attr("height",d=>Math.max(2,Y(d.u)-Y(d.t))).attr("fill",c);},
 labels:[[854,1057,"SHORT","#dc143c",95,27],[1199,1936,"(1) Buy Rev","#ff4500",116],[2359,1423,"(2) SELL TREND","#dc143c",163],[2855,1791,"(4) SELL TREND","#dc143c",163],[2999,1684,"(1) Sell Rev","#3cb371",112],[3071,1993,"(2) BUY TREND","#00ff00",150],[2774,2078,"LONG","#00ff00",78,29],[3572,1408,"(3) Sell Rev","#3cb371",113]],
 side:[[3672,1081,"61.8%",0,12,mono],[3727,1204,"62.5%"],[3672,1267,"38.2%",0,12,mono],[3785,1297,"[0/8]","#00bfff",18,mono,1],[3727,1378,"50.0%"],[3672,1400,"21.4%",0,12,mono],[3671,1490,"BUY","#00ffff",11,mono,0,1,20],[3725,1554,"37.5%"],[3671,1569,"OPEN UP","#00ff00",11,mono,0,1,49],[3671,1648,"SELL","#ff69b4",11,mono,0,1,27],[3712,1713,"[-1/8]","#ff69b4",18,mono,1],[3725,1726,"25.0%"],[3671,1741,"31.4%",0,12,mono],[3671,1867,"16.2%",0,12,mono],[3744,1903,"12.5% ENTRY"],[3671,2060,"61.8%",0,12,mono],[3725,2075,"0.0%"],
  [3080,1595,"Obj.1","#0a7a0a",10],[3084,1396,"Obj.2","#0a7a0a",10]]
});
P2.root.append("line").attr("x1",1423).attr("x2",1423).attr("y1",1064).attr("y2",2094).attr("stroke","#e8e8e8").attr("stroke-width",1.5);
T(P2.root,1447,1072,"Friday",{s:15,b:1,i:1,c:"#e8e8e8"});

// ---------- pair table ----------
const tb=svg.append("g");
tb.append("rect").attr("x",28).attr("y",141).attr("width",284).attr("height",318).attr("fill","#1e2833").attr("stroke","#fff").attr("stroke-width",3);
const tfx=[37,67,95,126,161,191,222,253,280],tfw=[16,19,24,26,13,16,14,17,25];
tfNames.forEach((s,i)=>T(tb,tfx[i],154,s,{a:"start",s:18,b:1,c:i==0?BLUE:"#909090",w:tfw[i]}));
[["PAIRS",37,36],["Bid",127,20],["PFO",187,22],["HiLo",231,27],["X",282,7]].forEach(h=>T(tb,h[1],175,h[0],{a:"start",s:18,b:1,c:"#909090",w:h[2]}));
const pairW=[48,54,62,65,45,54,66,64,67,62,65,68],bidW=[54,56,51,53,51,52,59,52,54,53,47,56],pfoW=[19,30,21,19,21,30,22,27,22,16,21,22],hiloW=[30,30,30,32,29,33,31,30,22,33,27,30];
tblPairs.forEach((s,i)=>{const yy=197+i*22,c=tblUp[i]?"#00ff00":"#ee82ee",pc=s=="US2000"?BLUE:"#fff";
  T(tb,36,yy,s,{a:"start",s:23,b:1,c:pc,w:pairW[i],st:pc,sw:.4});
  T(tb,113,yy,tblBid[i],{a:"start",s:23,b:1,c,w:bidW[i]});
  T(tb,183,yy,tblPfo[i],{a:"start",s:23,b:1,c,w:pfoW[i]});
  T(tb,229,yy,tblHilo[i],{a:"start",s:23,b:1,c:"#c0c0c0",w:hiloW[i]});
  tb.append("rect").attr("x",276).attr("y",yy-6).attr("width",24).attr("height",12).attr("fill",tblX[i]?BLUE:"#ff69b4");
});

// ---------- hand-drawn yellow annotations ----------
const ann=svg.append("g").attr("fill","none").attr("stroke","#ffee00").attr("stroke-width",5.5);
[[2339,1596,460,457],[2812,1851,282,191],[3101,1435,488,374]].forEach(r=>ann.append("rect").attr("x",r[0]).attr("y",r[1]).attr("width",r[2]).attr("height",r[3]));
const arrows=[[[2499,1405],[2540,1405],[2540,1482],[2561,1482],[2519,1561],[2480,1482],[2499,1482]],[[2875.5,1433],[2937,1433],[2937,1618],[2968,1618],[2907,1801],[2845.5,1618],[2875.5,1618]],[[3281,1374],[3317,1374],[3317,1455],[3335,1455],[3298,1536],[3263,1455],[3281,1455]]];
arrows.forEach(a=>ann.append("path").attr("d",d3.line()(a)+"Z"));
[[2534,1336,"Down Trend",243],[2868,1387,"Distribution",240],[3280,1343,"Up Trend",185]].forEach(l=>T(svg,l[0],l[1],l[2],{s:44,b:1,c:"#ffee00",f:"'Open Sans',sans-serif",w:l[3]}));
</script></body></html>
